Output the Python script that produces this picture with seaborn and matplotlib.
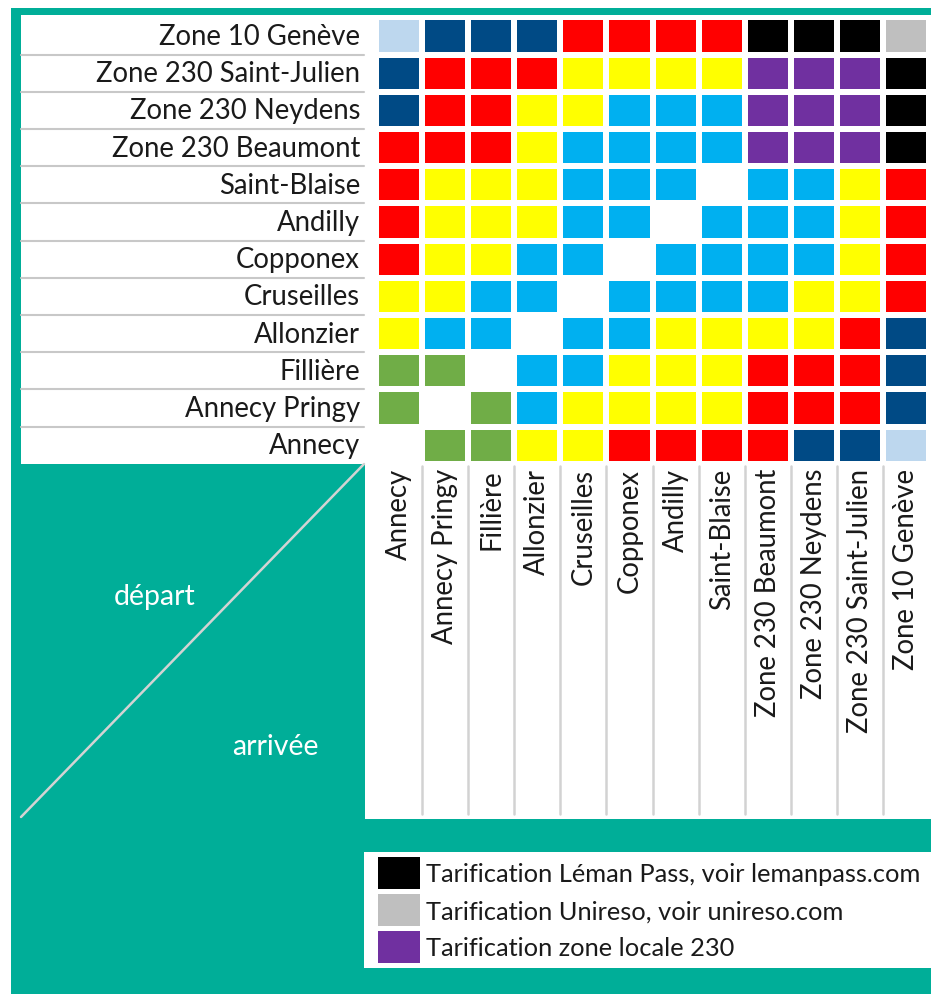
import numpy as np
import pandas as pd
import matplotlib
matplotlib.use("Agg")
import matplotlib.pyplot as plt
from matplotlib.colors import ListedColormap
from matplotlib.patches import Rectangle, Patch
import seaborn as sns

# stops, bottom to top on the rows, left to right on the columns
stops = ["Annecy", "Annecy Pringy", "Fillière", "Allonzier", "Cruseilles",
         "Copponex", "Andilly", "Saint-Blaise", "Zone 230 Beaumont",
         "Zone 230 Neydens", "Zone 230 Saint-Julien", "Zone 10 Genève"]

# fare colour codes (W = same stop)
codes = ["W", "G", "Y", "C", "R", "D", "L", "P", "K", "S"]
code_colors = ["#FFFFFF", "#70AD47", "#FFFF00", "#00B0F0", "#FF0000",
               "#004A85", "#BDD7EE", "#7030A0", "#000000", "#BFBFBF"]

# one list per departure row, top row first
row_geneve      = ["L", "D", "D", "D", "R", "R", "R", "R", "K", "K", "K", "S"]
row_stjulien    = ["D", "R", "R", "R", "Y", "Y", "Y", "Y", "P", "P", "P", "K"]
row_neydens     = ["D", "R", "R", "Y", "Y", "C", "C", "C", "P", "P", "P", "K"]
row_beaumont    = ["R", "R", "R", "Y", "C", "C", "C", "C", "P", "P", "P", "K"]
row_stblaise    = ["R", "Y", "Y", "Y", "C", "C", "C", "W", "C", "C", "Y", "R"]
row_andilly     = ["R", "Y", "Y", "Y", "C", "C", "W", "C", "C", "C", "Y", "R"]
row_copponex    = ["R", "Y", "Y", "C", "C", "W", "C", "C", "C", "C", "Y", "R"]
row_cruseilles  = ["Y", "Y", "C", "C", "W", "C", "C", "C", "C", "Y", "Y", "R"]
row_allonzier   = ["Y", "C", "C", "W", "C", "C", "Y", "Y", "Y", "Y", "R", "D"]
row_filliere    = ["G", "G", "W", "C", "C", "Y", "Y", "Y", "R", "R", "R", "D"]
row_pringy      = ["G", "W", "G", "C", "Y", "Y", "Y", "Y", "R", "R", "R", "D"]
row_annecy      = ["W", "G", "G", "Y", "Y", "R", "R", "R", "R", "D", "D", "L"]

legend_labels = ["Tarification Léman Pass, voir lemanpass.com",
                 "Tarification Unireso, voir unireso.com",
                 "Tarification zone locale 230"]
legend_colors = ["#000000", "#BFBFBF", "#7030A0"]

teal = "#00AE98"
W, H = 931, 995

grid = [row_geneve, row_stjulien, row_neydens, row_beaumont, row_stblaise,
        row_andilly, row_copponex, row_cruseilles, row_allonzier,
        row_filliere, row_pringy, row_annecy]
idx = {c: i for i, c in enumerate(codes)}
df = pd.DataFrame([[idx[c] for c in r] for r in grid],
                  index=stops[::-1], columns=stops)

sns.set_theme(style="white")
plt.rcParams["font.family"] = ["Lato", "DejaVu Sans"]
fs = 19.8

fig = plt.figure(figsize=(W / 100, H / 100), dpi=100)
fig.patch.set_facecolor("white")

# background layer in pixel coordinates
bg = fig.add_axes([0, 0, 1, 1])
bg.set_xlim(0, W)
bg.set_ylim(H, 0)
bg.axis("off")
bg.add_patch(Rectangle((11, 9), W - 11, H - 9, color=teal, lw=0))
bg.add_patch(Rectangle((21, 16), W - 21, 449, color="white", lw=0))
bg.add_patch(Rectangle((365, 464), W - 365, 356, color="white", lw=0))
bg.add_patch(Rectangle((364, 853), W - 364, 116, color="white", lw=0))

# heatmap geometry
x0, x1 = 376, 929
y0, y1 = 18.4, 464.8
pw = (x1 - x0) / 12
ph = (y1 - y0) / 12

for k in range(1, 12):
    bg.plot([21, 364], [y0 + k * ph] * 2, color="#C8C8C8", lw=1.5)
    bg.plot([x0 + k * pw] * 2, [467, 815], color="#D2D2D2", lw=1.8)

bg.plot([21, 364], [818, 465], color="#D3D3D3", lw=1.8)
bg.text(155, 597, "départ", color="white", fontsize=20.5, ha="center", va="center")
bg.text(275, 747, "arrivée", color="white", fontsize=20.5, ha="center", va="center")

ax = fig.add_axes([x0 / W, 1 - y1 / H, (x1 - x0) / W, (y1 - y0) / H])
cmap = ListedColormap(code_colors)
sns.heatmap(df, ax=ax, cmap=cmap, vmin=-0.5, vmax=len(codes) - 0.5,
            cbar=False, linewidths=3.2, linecolor="white", square=False)
ax.set_xlabel("")
ax.set_ylabel("")
ax.tick_params(axis="both", length=0, colors="#1A1A1A")
ax.tick_params(axis="y", pad=11.5)
ax.tick_params(axis="x", pad=3)
ax.set_yticklabels(stops[::-1], rotation=0, fontsize=fs, color="#1A1A1A")
ax.set_xticklabels(stops, rotation=90, fontsize=fs, color="#1A1A1A")

handles = [Patch(facecolor=c, edgecolor="none") for c in legend_colors]
lfs = 18.3
lpx = lfs / 0.72
# legend handle box height = F*hh - 0.35*F*(hh - 0.7); solve for 32 px
hh = (32 / lpx - 0.245) / 0.65
fig.legend(handles, legend_labels, loc="upper left",
           bbox_to_anchor=(378, 858), bbox_transform=bg.transData,
           frameon=False, fontsize=lfs, borderpad=0, borderaxespad=0,
           handlelength=42 / lpx, handleheight=hh,
           labelspacing=5 / lpx, handletextpad=6 / lpx,
           labelcolor="#1A1A1A")

fig.savefig("out.png", dpi=100, facecolor="white")
